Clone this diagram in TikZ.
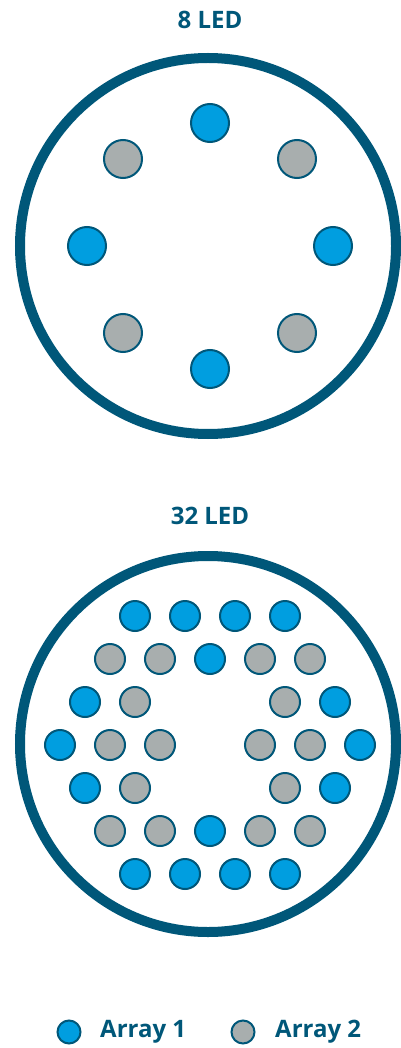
\documentclass[tikz,border=0pt]{standalone}
\usepackage{fontspec}
\setmainfont{Open Sans}
\usepackage{tikz}
\usetikzlibrary{positioning}

\definecolor{ringteal}{RGB}{0,87,121}
\definecolor{ledblue}{RGB}{0,158,224}
\definecolor{ledgray}{RGB}{168,174,174}

\tikzset{
  ledtitle/.style={font=\fontsize{24}{27}\selectfont\bfseries, text=ringteal, inner sep=0pt},
  housing/.style={circle, draw=ringteal, line width=10pt, minimum size=376pt}
}

\begin{document}
\begin{tikzpicture}[x=1pt,y=-1pt]
  \useasboundingbox (0,0) rectangle (400,1048);

  % titles and housings
  \node[ledtitle] (t8) at (210,20) {8 LED};
  \node[ledtitle] (t32) at (210,516) {32 LED};
  \node[housing] (h8) at (208,246) {};
  \node[housing] (h32) at (208,744) {};

  % 8 LED: array 1
  \begin{scope}[every node/.style={circle,draw=ringteal,line width=2pt,fill=ledblue,minimum size=38pt,inner sep=0pt}]
    \node[] (a1_n) at (210,123) {};
    \node[] (a1_s) at (210,369) {};
    \node[] (a1_w) at (87,246) {};
    \node[] (a1_e) at (333,246) {};
  \end{scope}

  % 8 LED: array 2
  \begin{scope}[every node/.style={circle,draw=ringteal,line width=2pt,fill=ledgray,minimum size=38pt,inner sep=0pt}]
    \node[] (a2_nw) at (123,159) {};
    \node[] (a2_ne) at (297,159) {};
    \node[] (a2_sw) at (123,333) {};
    \node[] (a2_se) at (297,333) {};
  \end{scope}

  % 32 LED: array 1
  \begin{scope}[every node/.style={circle,draw=ringteal,line width=2pt,fill=ledblue,minimum size=30pt,inner sep=0pt}]
    \node[] (b1_1) at (135,616) {};
    \node[] (b1_2) at (185,616) {};
    \node[] (b1_3) at (235,616) {};
    \node[] (b1_4) at (285,616) {};

    \node[] (b1_5) at (210,659) {};

    \node[] (b1_6) at (85,702) {};
    \node[] (b1_7) at (335,702) {};

    \node[] (b1_8) at (60,745) {};
    \node[] (b1_9) at (360,745) {};

    \node[] (b1_10) at (85,788) {};
    \node[] (b1_11) at (335,788) {};

    \node[] (b1_12) at (210,831) {};

    \node[] (b1_13) at (135,874) {};
    \node[] (b1_14) at (185,874) {};
    \node[] (b1_15) at (235,874) {};
    \node[] (b1_16) at (285,874) {};
  \end{scope}

  % 32 LED: array 2
  \begin{scope}[every node/.style={circle,draw=ringteal,line width=2pt,fill=ledgray,minimum size=30pt,inner sep=0pt}]
    \node[] (b2_1) at (110,659) {};
    \node[] (b2_2) at (160,659) {};
    \node[] (b2_3) at (260,659) {};
    \node[] (b2_4) at (310,659) {};

    \node[] (b2_5) at (135,702) {};
    \node[] (b2_6) at (285,702) {};

    \node[] (b2_7) at (110,745) {};
    \node[] (b2_8) at (160,745) {};
    \node[] (b2_9) at (260,745) {};
    \node[] (b2_10) at (310,745) {};

    \node[] (b2_11) at (135,788) {};
    \node[] (b2_12) at (285,788) {};

    \node[] (b2_13) at (110,831) {};
    \node[] (b2_14) at (160,831) {};
    \node[] (b2_15) at (260,831) {};
    \node[] (b2_16) at (310,831) {};
  \end{scope}

  % legend
  \node[circle,draw=ringteal,line width=2pt,fill=ledblue,minimum size=23pt,inner sep=0pt] (leg1) at (69,1032) {};
  \node[ledtitle,anchor=west] (leg1txt) at (100,1032) {Array 1};
  \node[circle,draw=ringteal,line width=2pt,fill=ledgray,minimum size=23pt,inner sep=0pt] (leg2) at (243,1032) {};
  \node[ledtitle,anchor=west] (leg2txt) at (275,1032) {Array 2};
\end{tikzpicture}
\end{document}
